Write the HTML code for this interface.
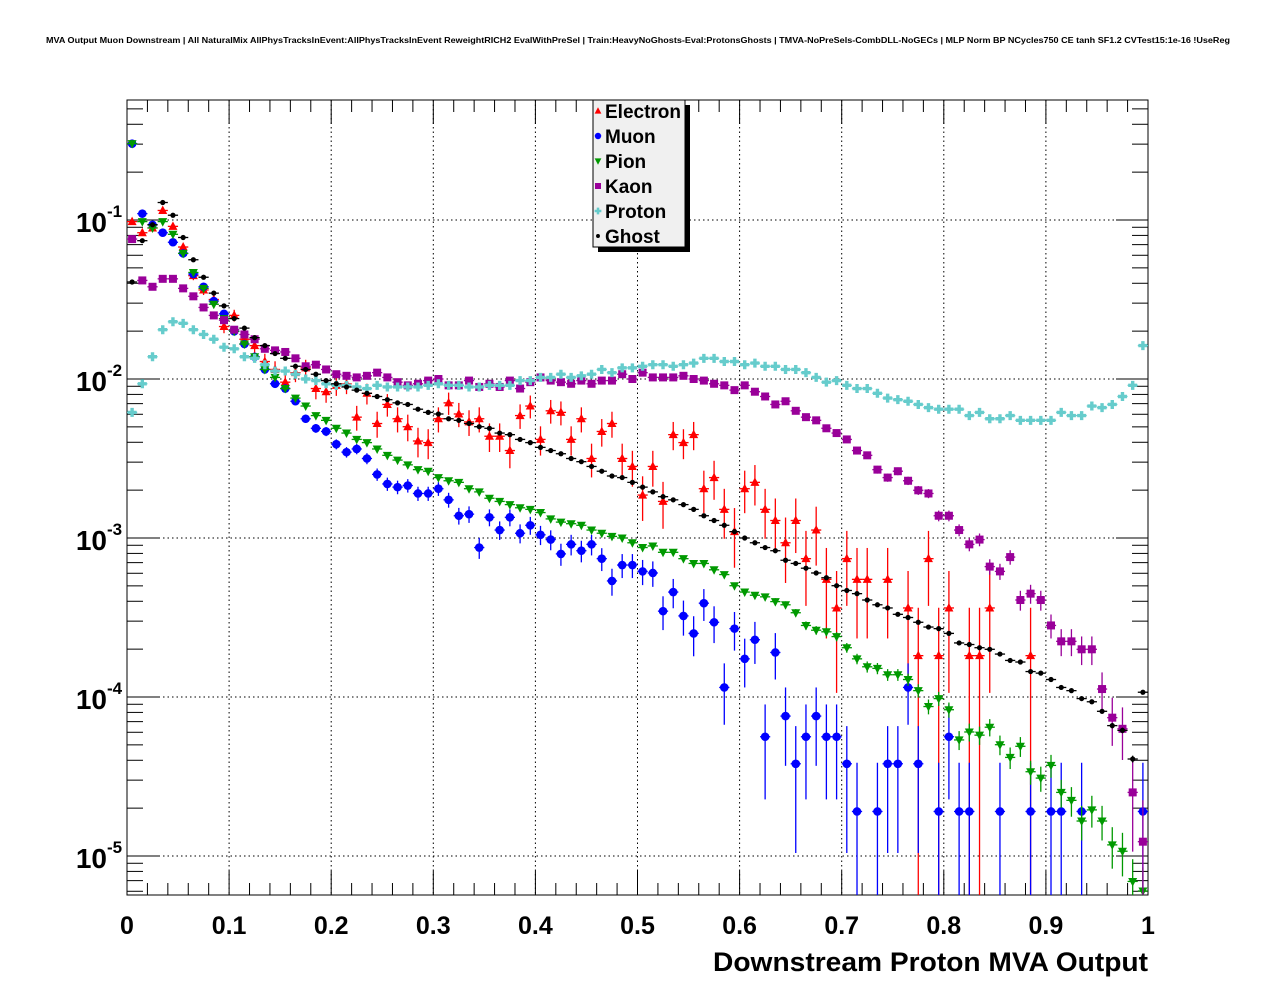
<!DOCTYPE html>
<html><head><meta charset="utf-8">
<style>
html,body{margin:0;padding:0;background:#fff;}
svg{display:block;font-family:"Liberation Sans",Arial,sans-serif;}
</style></head>
<body>
<svg id="chart" width="1276" height="996" viewBox="0 0 1276 996" xmlns="http://www.w3.org/2000/svg">
<rect x="0" y="0" width="1276" height="996" fill="#fff"/>
<text x="638" y="43" text-anchor="middle" font-size="8.6" font-weight="bold" textLength="1184" lengthAdjust="spacingAndGlyphs">MVA Output Muon Downstream | All NaturalMix AllPhysTracksInEvent:AllPhysTracksInEvent ReweightRICH2 EvalWithPreSel | Train:HeavyNoGhosts-Eval:ProtonsGhosts | TMVA-NoPreSels-CombDLL-NoGECs | MLP Norm BP NCycles750 CE tanh SF1.2 CVTest15:1e-16 !UseReg</text>
<g id="grid"></g>
<g id="axes"></g>
<g id="series"></g>
<g id="legend"></g>
<text x="1148" y="971" text-anchor="end" font-size="27" font-weight="bold" textLength="435" lengthAdjust="spacingAndGlyphs">Downstream Proton MVA Output</text>
</svg>
<script>
// log10 of normalized entries per bin (bins of width 0.01 from 0 to 1); null = empty bin
const binCount = 100;
const xTicks = [0, 0.1, 0.2, 0.3, 0.4, 0.5, 0.6, 0.7, 0.8, 0.9, 1];
const xTickLabels = ["0","0.1","0.2","0.3","0.4","0.5","0.6","0.7","0.8","0.9","1"];
const yDecades = [-1, -2, -3, -4, -5];
const electronLog = [-1.01,-1.08,-1.05,-0.94,-1.04,-1.17,-1.35,-1.44,-1.50,-1.67,-1.60,-1.75,-1.79,-1.89,-1.94,-2.02,-1.96,-1.93,-2.06,-2.08,-2.04,-2.03,-2.24,-2.09,-2.28,-2.16,-2.25,-2.30,-2.39,-2.40,-2.25,-2.15,-2.22,-2.27,-2.25,-2.36,-2.36,-2.45,-2.23,-2.17,-2.38,-2.20,-2.21,-2.38,-2.25,-2.50,-2.33,-2.28,-2.50,-2.55,-2.73,-2.55,-2.77,-2.35,-2.40,-2.35,-2.69,-2.62,-2.82,-2.96,-2.69,-2.65,-2.82,-2.89,-3.03,-2.89,-3.13,-2.95,-3.26,-3.44,-3.13,-3.26,-3.26,null,-3.26,null,-3.44,-3.74,-3.13,-3.74,-3.44,null,-3.74,-3.74,-3.44,null,null,null,-3.74,null,null,null,null,null,null,null,null,null,null,null];
const muonLog = [-0.52,-0.96,-1.03,-1.08,-1.14,-1.21,-1.34,-1.42,-1.51,-1.59,-1.70,-1.78,-1.86,-1.94,-2.03,-2.06,-2.14,-2.25,-2.31,-2.33,-2.41,-2.46,-2.44,-2.50,-2.60,-2.66,-2.68,-2.67,-2.72,-2.72,-2.69,-2.76,-2.86,-2.85,-3.06,-2.87,-2.95,-2.87,-2.97,-2.92,-2.98,-3.01,-3.10,-3.04,-3.08,-3.04,-3.13,-3.27,-3.17,-3.17,-3.21,-3.22,-3.46,-3.34,-3.49,-3.60,-3.41,-3.53,-3.94,-3.57,-3.76,-3.64,-4.25,-3.72,-4.12,-4.42,-4.25,-4.12,-4.25,-4.25,-4.42,-4.72,null,-4.72,-4.42,-4.42,-3.94,-4.42,null,-4.72,-4.25,-4.72,-4.72,null,null,-4.72,null,null,-4.72,null,-4.72,-4.72,null,-4.72,null,null,null,null,null,-4.72];
const pionLog = [-0.52,-1.01,-1.05,-1.01,-1.09,-1.21,-1.33,-1.43,-1.53,-1.62,-1.70,-1.78,-1.86,-1.94,-1.99,-2.06,-2.12,-2.17,-2.23,-2.26,-2.31,-2.34,-2.38,-2.40,-2.44,-2.48,-2.51,-2.54,-2.57,-2.58,-2.62,-2.64,-2.65,-2.69,-2.71,-2.75,-2.77,-2.79,-2.81,-2.82,-2.84,-2.88,-2.90,-2.91,-2.92,-2.95,-2.97,-2.99,-3.00,-3.03,-3.06,-3.05,-3.09,-3.09,-3.13,-3.16,-3.16,-3.20,-3.23,-3.30,-3.34,-3.36,-3.37,-3.40,-3.42,-3.47,-3.55,-3.58,-3.59,-3.62,-3.69,-3.76,-3.81,-3.82,-3.86,-3.86,-3.89,-3.96,-4.06,-4.01,-4.08,-4.27,-4.22,-4.24,-4.19,-4.30,-4.38,-4.31,-4.47,-4.51,-4.43,-4.60,-4.65,-4.78,-4.71,-4.78,-4.93,-4.97,-5.16,-5.22];
const kaonLog = [-1.12,-1.38,-1.42,-1.37,-1.37,-1.43,-1.48,-1.55,-1.60,-1.63,-1.69,-1.72,-1.75,-1.81,-1.82,-1.83,-1.87,-1.92,-1.91,-1.94,-1.97,-1.98,-1.99,-1.98,-1.96,-1.99,-2.02,-2.04,-2.03,-2.01,-2.00,-2.04,-2.04,-2.01,-2.05,-2.03,-2.05,-2.01,-2.06,-2.02,-1.99,-2.01,-2.02,-2.03,-2.01,-2.03,-2.01,-2.01,-1.97,-2.00,-1.96,-1.99,-1.99,-1.99,-1.98,-2.00,-2.01,-2.03,-2.04,-2.07,-2.04,-2.08,-2.11,-2.16,-2.14,-2.20,-2.24,-2.26,-2.31,-2.34,-2.38,-2.45,-2.48,-2.57,-2.62,-2.58,-2.64,-2.70,-2.72,-2.86,-2.86,-2.95,-3.04,-3.01,-3.18,-3.21,-3.12,-3.39,-3.35,-3.39,-3.55,-3.65,-3.65,-3.70,-3.70,-3.95,-4.13,-4.20,-4.60,-4.91];
const protonLog = [-2.21,-2.03,-1.86,-1.69,-1.64,-1.65,-1.69,-1.72,-1.75,-1.80,-1.81,-1.86,-1.87,-1.91,-1.95,-1.95,-1.97,-2.00,-2.01,-2.03,-2.04,-2.04,-2.05,-2.06,-2.04,-2.05,-2.05,-2.05,-2.05,-2.04,-2.03,-2.04,-2.04,-2.05,-2.05,-2.04,-2.04,-2.04,-2.01,-2.01,-1.99,-1.99,-1.97,-1.99,-1.98,-1.97,-1.94,-1.96,-1.93,-1.93,-1.92,-1.91,-1.91,-1.92,-1.91,-1.90,-1.87,-1.87,-1.89,-1.89,-1.91,-1.90,-1.92,-1.92,-1.94,-1.94,-1.96,-1.99,-2.02,-2.01,-2.04,-2.06,-2.06,-2.09,-2.12,-2.13,-2.14,-2.16,-2.18,-2.19,-2.19,-2.19,-2.23,-2.21,-2.25,-2.25,-2.23,-2.26,-2.26,-2.26,-2.26,-2.21,-2.23,-2.23,-2.17,-2.18,-2.16,-2.11,-2.04,-1.79];
const ghostLog = [-1.39,-1.13,-1.03,-0.89,-0.97,-1.11,-1.25,-1.36,-1.46,-1.54,-1.62,-1.68,-1.74,-1.79,-1.84,-1.87,-1.92,-1.94,-1.97,-2.01,-2.03,-2.05,-2.07,-2.09,-2.11,-2.13,-2.15,-2.16,-2.19,-2.21,-2.22,-2.25,-2.26,-2.28,-2.30,-2.31,-2.34,-2.35,-2.38,-2.40,-2.43,-2.45,-2.47,-2.50,-2.52,-2.55,-2.58,-2.61,-2.62,-2.65,-2.68,-2.71,-2.74,-2.76,-2.79,-2.82,-2.86,-2.89,-2.92,-2.96,-3.00,-3.03,-3.06,-3.08,-3.14,-3.16,-3.19,-3.22,-3.25,-3.30,-3.33,-3.35,-3.39,-3.42,-3.44,-3.48,-3.50,-3.53,-3.56,-3.57,-3.60,-3.66,-3.67,-3.69,-3.70,-3.73,-3.77,-3.78,-3.84,-3.85,-3.89,-3.94,-3.96,-4.01,-4.03,-4.09,-4.18,-4.21,-4.39,-3.97];
const seriesNames = ["Electron","Muon","Pion","Kaon","Proton","Ghost"];

const NS = "http://www.w3.org/2000/svg";
const X0 = 127, X1 = 1148, Y0 = 100, Y1 = 895;
const LOGTOP = -1 + (220 - Y0) / 159, LOGBOT = -1 - (Y1 - 220) / 159;
function xScale(v){ return X0 + (X1 - X0) * v; }
function yScale(lg){ return Y0 + (LOGTOP - lg) / (LOGTOP - LOGBOT) * (Y1 - Y0); }
function mk(tag, attrs, parent){ const e = document.createElementNS(NS, tag); for (const k in attrs) e.setAttribute(k, attrs[k]); parent.appendChild(e); return e; }

const grid = document.getElementById('grid');
const axes = document.getElementById('axes');
const ser = document.getElementById('series');
const leg = document.getElementById('legend');

xTicks.slice(1, -1).forEach(t => {
  const l = mk('line', {x1: xScale(t), x2: xScale(t), y1: Y0, y2: Y1, stroke: '#000', 'stroke-width': 1, 'stroke-dasharray': '1.5,3'}, grid);
  
  
});
yDecades.forEach(d => {
  const l = mk('line', {x1: X0, x2: X1, y1: yScale(d), y2: yScale(d), stroke: '#000', 'stroke-width': 1, 'stroke-dasharray': '1.5,3'}, grid);
  
  
});

const frame = mk('rect', {x: X0, y: Y0, width: X1 - X0, height: Y1 - Y0, fill: 'none', stroke: '#000', 'stroke-width': 1}, axes);



for (let i = 0; i <= 50; i++) {
  const v = i / 50, x = xScale(v);
  const len = (i % 5 === 0) ? 24 : 12;
  const a = mk('line', {x1: x, x2: x, y1: Y1, y2: Y1 - len, stroke: '#000', 'stroke-width': 1}, axes);
  
  
  const b = mk('line', {x1: x, x2: x, y1: Y0, y2: Y0 + len, stroke: '#000', 'stroke-width': 1}, axes);
  
  
}
xTicks.forEach((t, i) => {
  const tx = mk('text', {x: xScale(t), y: 934, 'text-anchor': 'middle', 'font-size': 25, 'font-weight': 'bold'}, axes);
  tx.textContent = xTickLabels[i];
  
  
});

for (let d = 0; d >= -6; d--) {
  for (let m = 1; m <= 9; m++) {
    const lg = d + Math.log10(m);
    if (lg > LOGTOP || lg < LOGBOT) continue;
    const y = yScale(lg), len = (m === 1) ? 32 : 16;
    const a = mk('line', {x1: X0, x2: X0 + len, y1: y, y2: y, stroke: '#000', 'stroke-width': 1}, axes);
    
    
    const b = mk('line', {x1: X1, x2: X1 - len, y1: y, y2: y, stroke: '#000', 'stroke-width': 1}, axes);
    
    
  }
}
yDecades.forEach(d => {
  const y = yScale(d);
  const tx = mk('text', {x: 107, y: y + 12, 'text-anchor': 'end', 'font-size': 28, 'font-weight': 'bold'}, axes);
  tx.textContent = '10';
  
  
  const sp = mk('text', {x: 107, y: y - 3, 'text-anchor': 'start', 'font-size': 17, 'font-weight': 'bold'}, axes);
  sp.textContent = String(d);
  
  
});

function marker(kind, color, x, y, parent, s){
  s = s || 1;
  if (kind === 'tri-up') return mk('polygon', {points: `${x},${y-5*s} ${x-4.5*s},${y+3.5*s} ${x+4.5*s},${y+3.5*s}`, fill: color}, parent);
  if (kind === 'tri-down') return mk('polygon', {points: `${x},${y+5*s} ${x-4.5*s},${y-3.5*s} ${x+4.5*s},${y-3.5*s}`, fill: color}, parent);
  if (kind === 'circle') return mk('circle', {cx: x, cy: y, r: 4.3*s, fill: color}, parent);
  if (kind === 'dot') return mk('circle', {cx: x, cy: y, r: 2.6*s, fill: color}, parent);
  if (kind === 'square') return mk('rect', {x: x-4*s, y: y-4*s, width: 8*s, height: 8*s, fill: color}, parent);
  if (kind === 'cross') return mk('path', {d: `M${x-1.7*s},${y-4.5*s}h${3.4*s}v${2.8*s}h${2.8*s}v${3.4*s}h${-2.8*s}v${2.8*s}h${-3.4*s}v${-2.8*s}h${-2.8*s}v${-3.4*s}h${2.8*s}z`, fill: color}, parent);
}
const seriesDefs = [
  {data: electronLog, color: '#ff0000', kind: 'tri-up', norm: 5500},
  {data: muonLog, color: '#0000ff', kind: 'circle', norm: 50000},
  {data: pionLog, color: '#009900', kind: 'tri-down', norm: 1e6},
  {data: kaonLog, color: '#990099', kind: 'square', norm: 1.2e5},
  {data: protonLog, color: '#66cccc', kind: 'cross', norm: 1e7},
  {data: ghostLog, color: '#000000', kind: 'dot', norm: 1e7}
];
const bw = (X1 - X0) / binCount;
seriesDefs.forEach((s, si) => {
  const g = mk('g', {}, ser);
  
  
  s.data.forEach((lg, i) => {
    if (lg === null) return;
    const xc = X0 + (i + 0.5) * bw, y = yScale(lg);
    const r = 1 / Math.sqrt(Math.pow(10, lg) * s.norm);
    const yUp = yScale(lg + Math.log10(1 + r));
    const yDn = r >= 0.999 ? Y1 : Math.min(Y1, yScale(lg + Math.log10(1 - r)));
    const eb = mk('line', {x1: xc, x2: xc, y1: Math.max(Y0, yUp), y2: yDn, stroke: s.color, 'stroke-width': 1.3}, g);
    
    
    const hb = mk('line', {x1: xc - bw / 2, x2: xc + bw / 2, y1: y, y2: y, stroke: s.color, 'stroke-width': 1.3}, g);
    
    
    if (y > Y1 + 3) return;
    const m = marker(s.kind, s.color, xc, y, g);
    
    
  });
});

const shadow = mk('rect', {x: 598, y: 105, width: 92, height: 147, fill: '#000'}, leg);


const box = mk('rect', {x: 593, y: 100, width: 92, height: 147, fill: '#f0f0f0', stroke: '#000', 'stroke-width': 1}, leg);


seriesDefs.forEach((s, i) => {
  const y = 111 + i * 25;
  const e = mk('g', {}, leg);
  
  
  marker(s.kind, s.color, 598, y, e, 0.75);
  const t = mk('text', {x: 605, y: y + 7, 'font-size': 19, 'font-weight': 'bold'}, e);
  t.textContent = seriesNames[i];
});
</script>
</body></html>
